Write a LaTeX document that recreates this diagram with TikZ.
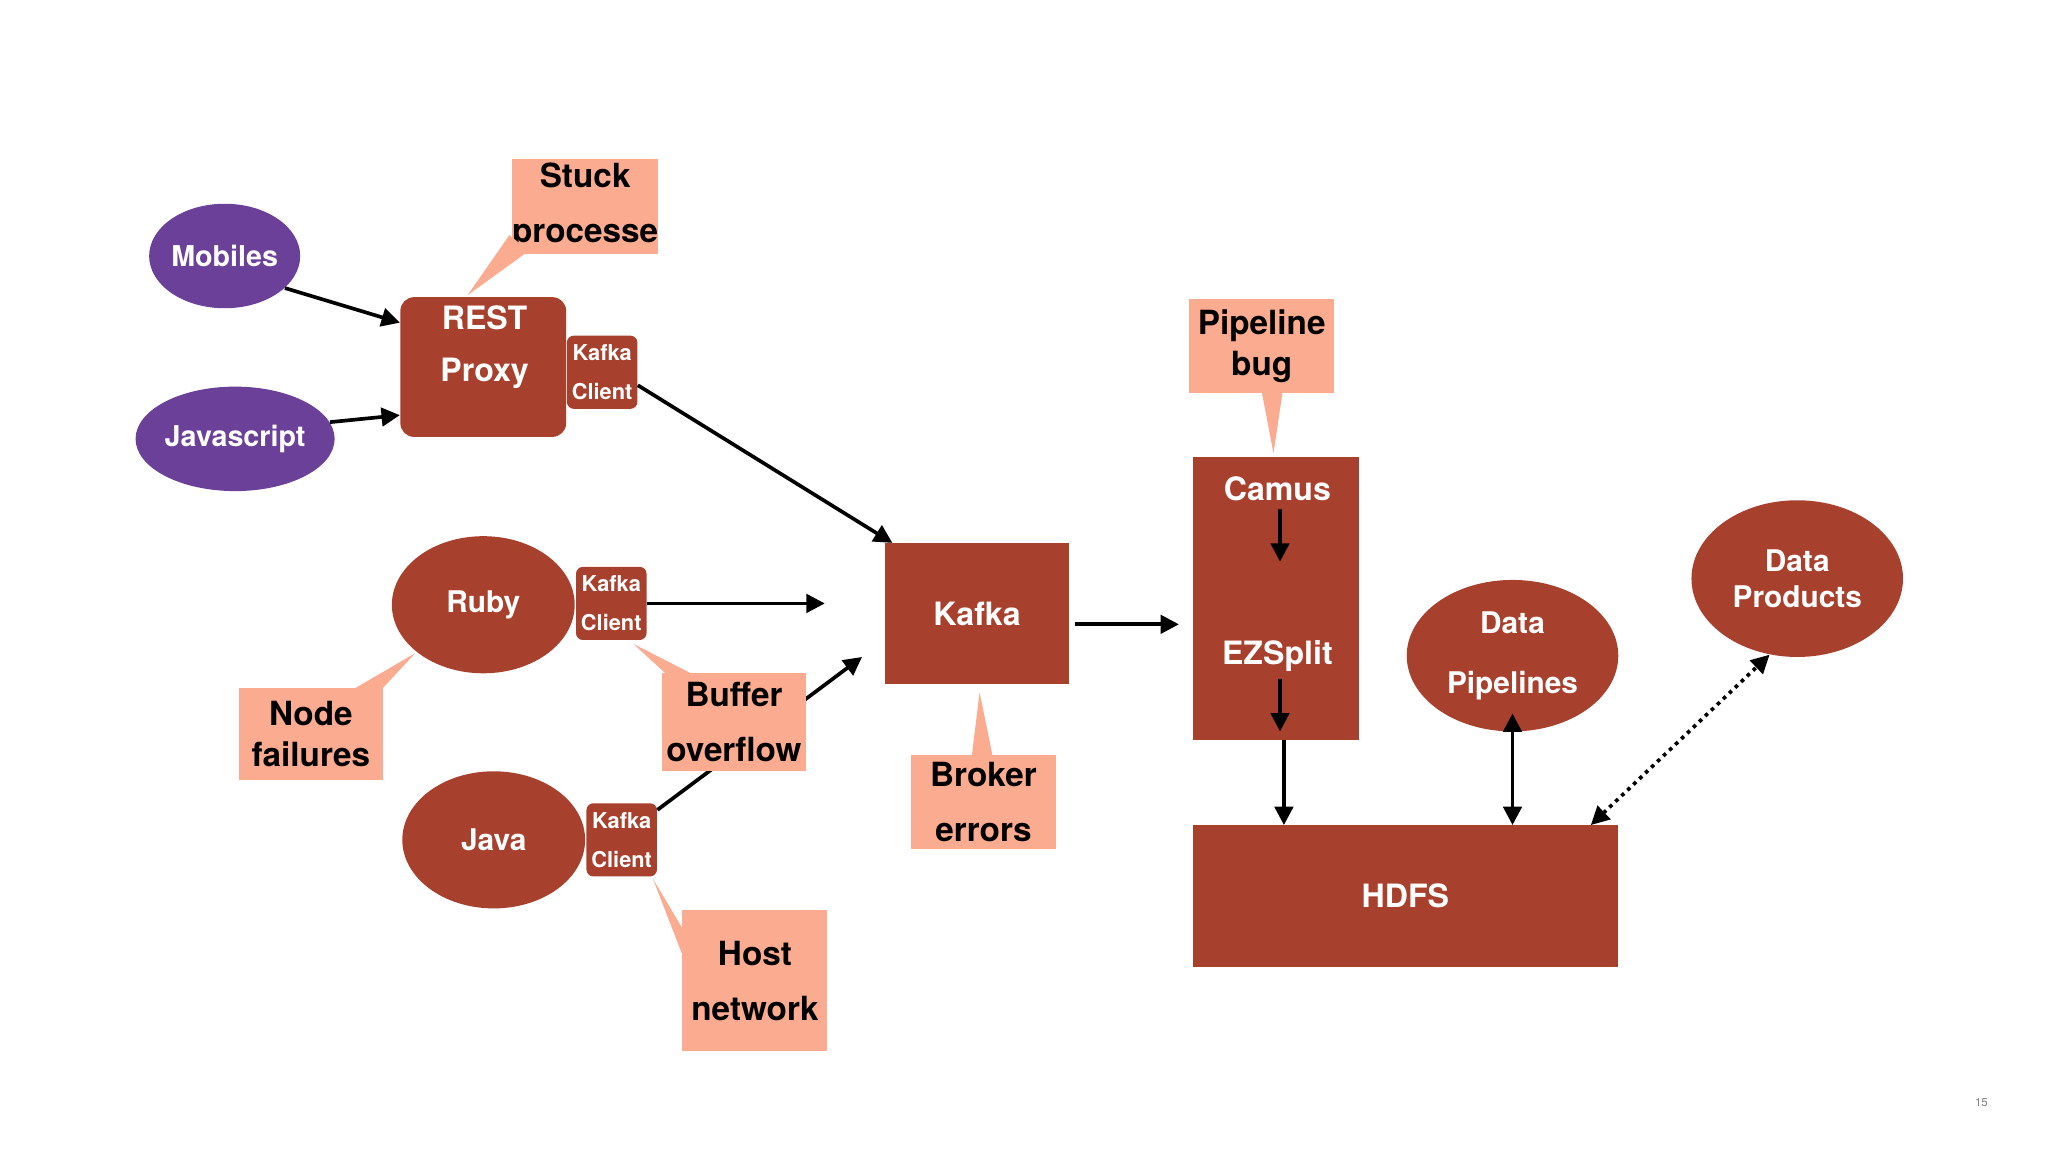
\documentclass[tikz,border=0pt]{standalone}
\usepackage{fontspec}
\setmainfont{TeX Gyre Heros}
\usetikzlibrary{shapes.geometric,arrows.meta}
\definecolor{brick}{RGB}{168,64,46}
\definecolor{salmon}{RGB}{251,171,144}
\definecolor{grape}{RGB}{106,64,152}
\tikzset{
  block/.style={fill=brick,text=white,font=\bfseries\fontsize{14}{18}\selectfont,inner sep=0pt,align=center},
  client/.style={block,rounded corners=3pt,minimum width=1.08cm,minimum height=1.12cm,font=\bfseries\fontsize{9.5}{13}\selectfont},
  blob/.style={ellipse,fill=brick,text=white,font=\bfseries\fontsize{13}{16}\selectfont,inner sep=0pt},
  device/.style={ellipse,fill=grape,text=white,font=\bfseries\fontsize{12.5}{15}\selectfont,inner sep=0pt,minimum width=2.2cm,minimum height=1.6cm},
  note/.style={fill=salmon,text=black,font=\bfseries\fontsize{14.5}{18}\selectfont,inner sep=0pt,align=center},
  arr/.style={-{Triangle[length=8pt,width=8pt]},line width=1.6pt},
  twoarr/.style={{Triangle[length=8pt,width=8pt]}-{Triangle[length=8pt,width=8pt]},line width=1.6pt}
}
\begin{document}
\begin{tikzpicture}[x=0.02cm,y=-0.02cm]
\useasboundingbox (0,0) rectangle (1568,882);
\node[font=\fontsize{5}{6}\selectfont,text=gray] (page) at (1517,844) {15};
% sources
\node[device] (mobiles) at (172,196) {Mobiles};
\node[device] (js) at (180,336) {Javascript};
\node[block,rounded corners=6pt,minimum width=2.54cm,minimum height=2.14cm] (proxy) at (370,281) {};
\node[block] (restlbl) at (371,243) {REST};
\node[block] (proxylbl) at (371,286) {Proxy};
\node[client] (kc1) at (461,285) {Kafka\\[4pt]Client};
\node[blob,minimum width=2.8cm,minimum height=2.1cm] (ruby) at (370,463) {Ruby};
\node[client] (kc2) at (468,462) {Kafka\\[4pt]Client};
\node[blob,minimum width=2.8cm,minimum height=2.1cm] (java) at (378,643) {Java};
\node[client] (kc3) at (476,643) {Kafka\\[4pt]Client};
% core
\node[block,minimum width=2.82cm,minimum height=2.16cm] (kafka) at (748,470) {Kafka};
\node[block,minimum width=2.54cm,minimum height=4.34cm] (camus) at (977,458) {};
\node[block] (camuslbl) at (978,374) {Camus};
\node[block] (ezlbl) at (978,502) {EZSplit};
\node[block,minimum width=6.5cm,minimum height=2.16cm] (hdfs) at (1076,686) {HDFS};
\node[blob,minimum width=3.24cm,minimum height=2.32cm,align=center] (pipes) at (1158,502) {Data\\[10pt]Pipelines};
\node[blob,minimum width=3.24cm,minimum height=2.4cm,align=center] (products) at (1376,443) {Data\\Products};
% connectors
\coordinate (c1) at (980,390); \coordinate (c2) at (980,430);
\coordinate (c3) at (980,520); \coordinate (c4) at (980,560);
\coordinate (bufjoin) at (660,503);
\draw[arr] (mobiles.-28) -- (proxy.152);
\draw[arr] (js.10) -- (proxy.-150);
\draw[arr] (kc1.-20) -- (kafka.140);
\draw[arr] (kc2.east) -- ([xshift=-26]kafka.west|-kc2.east);
\draw[arr] (kc3.40) -- (bufjoin);
\draw[arr] (kafka.east|-0,478) ++(4,0) -- ([xshift=-6]camus.west|-0,478);
\draw[arr] (c1) -- (c2);
\draw[arr] (c3) -- (c4);
\draw[arr] (camus.south-|983,0) -- (hdfs.north-|983,0);
\draw[twoarr] ([yshift=8]pipes.south) -- (hdfs.north-|pipes.south);
\draw[twoarr,dotted] (hdfs.north-|1218,0) -- (products.-110);
% callouts
\node[note,minimum width=2.22cm,minimum height=1.46cm] (stuck) at (448,158) {Stuck\\[6pt]processe};
\fill[salmon] (390,180) -- (405,192) -- (358,226) -- cycle;
\node[note,minimum width=2.2cm,minimum height=1.42cm] (nodefail) at (238,562) {Node\\failures};
\fill[salmon] (270,528) -- (292,528) -- (318,500) -- cycle;
\node[note,minimum width=2.2cm,minimum height=1.5cm] (buffer) at (562,553) {Buffer\\[6pt]overflow};
\fill[salmon] (510,516) -- (530,516) -- (485,493) -- cycle;
\node[note,minimum width=2.22cm,minimum height=2.16cm] (host) at (578,751) {Host\\[6pt]network};
\fill[salmon] (522,710) -- (522,730) -- (500,673) -- cycle;
\node[note,minimum width=2.22cm,minimum height=1.44cm] (broker) at (753,614) {Broker\\[6pt]errors};
\fill[salmon] (744,579) -- (760,579) -- (750,530) -- cycle;
\node[note,minimum width=2.22cm,minimum height=1.44cm] (bug) at (966,265) {Pipeline\\bug};
\fill[salmon] (966,300) -- (982,300) -- (975,347) -- cycle;
\end{tikzpicture}
\end{document}
